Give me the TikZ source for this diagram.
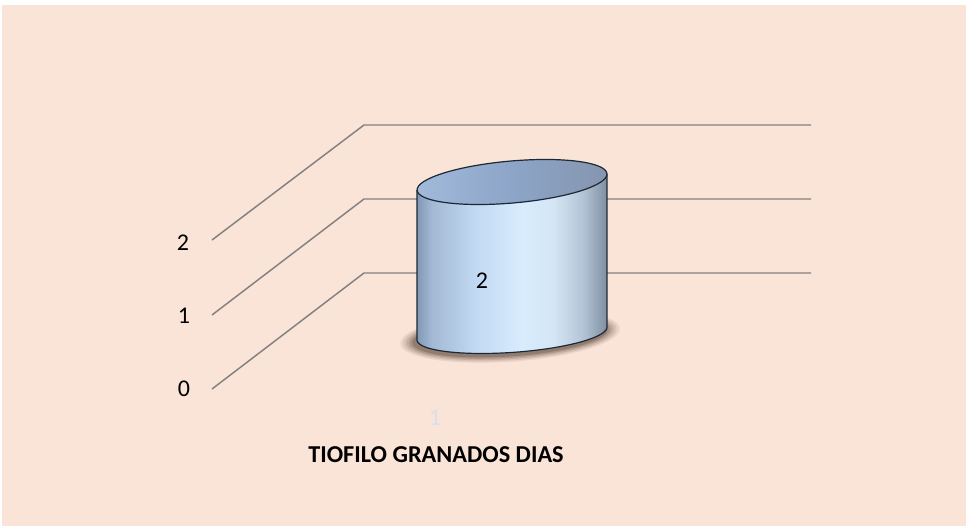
\documentclass[tikz,border=0pt]{standalone}
\usepackage{fontspec}
\setmainfont{Carlito}
\definecolor{bg}{HTML}{FAE4D7}
\definecolor{gridc}{HTML}{858080}
\definecolor{edgec}{HTML}{1E2834}
\definecolor{shadowc}{HTML}{3A2418}
\definecolor{catc}{HTML}{D8E0EA}
\definecolor{b0}{HTML}{8299B6}
\definecolor{b1}{HTML}{A3B9D4}
\definecolor{b2}{HTML}{C0D8F2}
\definecolor{b3}{HTML}{D8ECFD}
\definecolor{b4}{HTML}{D4E6F6}
\definecolor{b5}{HTML}{B2C2D4}
\definecolor{b6}{HTML}{7F8FA3}
\definecolor{t0}{HTML}{A2BADA}
\definecolor{t1}{HTML}{8CA5C8}
\definecolor{t2}{HTML}{8595AE}
\pgfdeclarehorizontalshading{cylbody}{100bp}{color(0bp)=(b0); color(25bp)=(b0); color(29bp)=(b1); color(40bp)=(b2); color(52.5bp)=(b3); color(61bp)=(b4); color(69bp)=(b5); color(75bp)=(b6); color(100bp)=(b6)}
\pgfdeclarehorizontalshading{cyltop}{100bp}{color(0bp)=(t0); color(25bp)=(t0); color(50bp)=(t1); color(75bp)=(t2); color(100bp)=(t2)}
\tikzset{
  gridline/.style={draw=gridc, line width=1.1pt},
  axl/.style={font=\fontsize{18}{21}\selectfont, text=black, inner sep=0pt},
  vall/.style={font=\fontsize{18}{21}\selectfont, text=black, inner sep=0pt},
  catl/.style={font=\fontsize{18}{21}\selectfont, text=catc, inner sep=0pt},
  ttl/.style={font=\fontsize{18.2}{21}\selectfont\bfseries, text=black, inner sep=0pt},
}
\begin{document}
\begin{tikzpicture}[x=0.75pt,y=0.75pt]
\useasboundingbox (0,0) rectangle (966,525);
\fill[white] (0,0) rectangle (966,525);
\fill[bg] (2,-3) rectangle (969,520);
% grid lines
\coordinate (a2) at (212,285); \coordinate (b2) at (364,400); \coordinate (c2) at (811,400);
\coordinate (a1) at (212,210); \coordinate (b1) at (364,326); \coordinate (c1) at (811,326);
\coordinate (a0) at (212,136); \coordinate (b0) at (364,252); \coordinate (c0) at (811,252);
\draw[gridline] (a2) -- (b2) -- (c2);
\draw[gridline] (a1) -- (b1) -- (c1);
\draw[gridline] (a0) -- (b0) -- (c0);
% axis labels
\node[axl] (l2) at (183,282) {2};
\node[axl] (l1) at (184,209) {1};
\node[axl] (l0) at (184,136) {0};
% shadow
\foreach \s/\o in {15/0.08,12/0.1,9/0.13,6/0.17,3/0.22}{
  \fill[shadowc, opacity=\o, rotate around={4:(510,189)}] (510,189) ellipse [x radius={95+\s}, y radius={19+0.45*\s}];
}
% cylinder
\coordinate (TL) at ({512+95.3*cos(178.9)*cos(5)-21*sin(178.9)*sin(5)},{343+95.3*cos(178.9)*sin(5)+21*sin(178.9)*cos(5)});
\coordinate (TR) at ({512+95.3*cos(-1.1)*cos(5)-21*sin(-1.1)*sin(5)},{343+95.3*cos(-1.1)*sin(5)+21*sin(-1.1)*cos(5)});
\coordinate (BL) at ({512+95.2*cos(179.2)*cos(4)-18.9*sin(179.2)*sin(4)},{191.5+95.2*cos(179.2)*sin(4)+18.9*sin(179.2)*cos(4)});
\path[shading=cylbody] (TL) -- (BL) -- plot[domain=179.2:359.2, samples=80, variable=\t] ({512+95.2*cos(\t)*cos(4)-18.9*sin(\t)*sin(4)},{191.5+95.2*cos(\t)*sin(4)+18.9*sin(\t)*cos(4)}) -- (TR) -- cycle;
\draw[edgec, line width=0.9pt, line join=round] (TL) -- (BL) -- plot[domain=179.2:359.2, samples=80, variable=\t] ({512+95.2*cos(\t)*cos(4)-18.9*sin(\t)*sin(4)},{191.5+95.2*cos(\t)*sin(4)+18.9*sin(\t)*cos(4)}) -- (TR);
\path[shading=cyltop, rotate around={5:(512,343)}] (512,343) ellipse [x radius=95.3, y radius=21];
\draw[edgec, line width=0.9pt, rotate around={5:(512,343)}] (512,343) ellipse [x radius=95.3, y radius=21];
% labels
\node[vall] (v2) at (482,244) {2};
\node[catl] (cat1) at (435,107) {1};
\node[ttl] (title) at (436,70) {TIOFILO GRANADOS DIAS};
\end{tikzpicture}
\end{document}
